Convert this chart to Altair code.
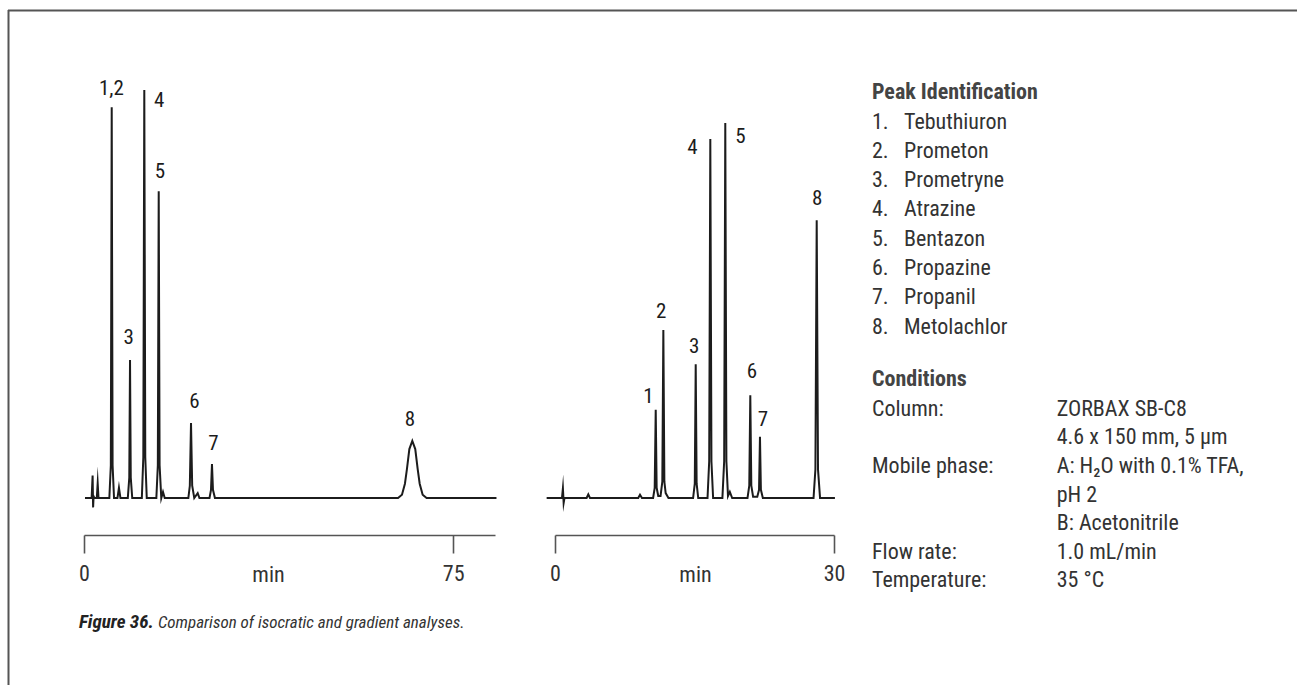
import altair as alt
import pandas as pd

FONT = "Liberation Sans Narrow, Roboto Condensed, Roboto, sans-serif"
TEXT = "#333333"
INK = "#1c1c1c"
AXIS = "#555555"

# ---- isocratic chromatogram (left), minutes / relative response ----
iso_time = [0.2, 1.55, 1.75, 1.85, 1.95, 2.1, 2.6, 2.78, 2.95,
            5.15, 5.45, 5.63, 5.81, 6.1, 6.8, 7.1, 7.4,
            8.9, 9.2, 9.35, 9.5, 9.8,
            11.75, 12.05, 12.25, 12.45, 12.75,
            14.7, 15.0, 15.18, 15.36, 15.7, 16.05, 16.4,
            21.2, 21.5, 21.74, 21.98, 22.4, 23.1, 23.45,
            25.5, 25.8, 26.0, 26.2, 26.6,
            63.8, 64.6, 65.2, 65.6, 66.1, 66.7, 67.3, 67.8, 68.2, 68.8, 69.6, 83.8]
iso_signal = [0, 0, 5.5, -2.3, 0.4, 0, 0, 3.6, 0,
              0, 8, 95.8, 8, 0, 0, 2.5, 0,
              0, 5, 33.8, 5, 0,
              0, 10, 100, 10, 0,
              0, 8, 75.2, 8, 0, 1.5, 0,
              0, 3, 18.4, 3, 0, 1.2, 0,
              0, 2, 8.3, 2, 0,
              0, 0.8, 3.5, 7, 12, 14.0, 12, 7, 3.5, 0.8, 0, 0]

# ---- gradient chromatogram (right) ----
grad_time = [-0.9, 0.75, 0.85, 0.93, 1.02, 3.4, 3.58, 3.76, 8.95, 9.14, 9.35,
             10.55, 10.72, 10.83, 10.93, 11.1,
             11.35, 11.54, 11.65, 11.76, 11.9, 12.2,
             14.85, 15.03, 15.13, 15.23, 15.4,
             16.4, 16.58, 16.70, 16.82, 17.0,
             18.0, 18.19, 18.31, 18.43, 18.6, 18.8, 19.05,
             20.7, 20.89, 21.0, 21.11, 21.3,
             21.75, 21.94, 22.04, 22.14, 22.35,
             27.8, 28.0, 28.14, 28.28, 28.5, 30.1]
grad_signal = [0, 0, 2.4, -1.2, 0, 0, 0.9, 0, 0, 0.8, 0,
               0, 2.5, 21.6, 2.5, 0.5,
               0.5, 4, 41.2, 4, 1.2, 0,
               0, 3.5, 32.8, 3.5, 0,
               0, 9, 88.0, 9, 0,
               0, 9, 91.9, 9, 0.5, 1.5, 0,
               0, 3, 25.2, 3, 0.3,
               0.3, 2, 15.0, 2, 0,
               0, 7, 68.1, 7, 0, 0]

iso_labels = ["1,2", "3", "4", "5", "6", "7", "8"]
iso_label_time = [5.55, 9.08, 15.3, 15.45, 22.45, 26.3, 66.2]
iso_label_signal = [100.2, 39.1, 97.3, 79.9, 23.5, 13.3, 19.0]

grad_labels = ["1", "2", "3", "4", "5", "6", "7", "8"]
grad_label_time = [10.05, 11.43, 14.96, 14.78, 19.95, 21.18, 22.35, 28.2]
grad_label_signal = [24.75, 45.5, 36.9, 85.8, 88.6, 31.0, 19.0, 73.3]

iso_ticks = [0, 75]
grad_ticks = [0, 30]
x_title = "min"

peak_heading = "Peak Identification"
peak_numbers = ["1.", "2.", "3.", "4.", "5.", "6.", "7.", "8."]
peak_names = ["Tebuthiuron", "Prometon", "Prometryne", "Atrazine",
              "Bentazon", "Propazine", "Propanil", "Metolachlor"]
cond_heading = "Conditions"
cond_keys = ["Column:", "", "Mobile phase:", "", "", "Flow rate:", "Temperature:"]
cond_values = ["ZORBAX SB-C8", "4.6 x 150 mm, 5 µm", "A: H\u2082O with 0.1% TFA,",
               "pH 2", "B: Acetonitrile", "1.0 mL/min", "35 °C"]
caption_bold = "Figure 36."
caption_text = "Comparison of isocratic and gradient analyses."

# ---------------------------------------------------------------------
y_scale = alt.Scale(domain=[0, 100], range=[498, 90], nice=False, zero=False)
iso_scale = alt.Scale(domain=[0, 83.5], range=[84, 495], nice=False, zero=False)
grad_scale = alt.Scale(domain=[0, 30], range=[555, 834], nice=False, zero=False)


def x_axis(ticks, title_x):
    return alt.Axis(orient="bottom", offset=-150, values=ticks, format="d",
                    title=x_title, titleX=title_x, titleY=46,
                    titleBaseline="alphabetic", titleFont=FONT, titleFontSize=22,
                    titleFontWeight="normal", titleColor=TEXT,
                    labelFont=FONT, labelFontSize=22, labelColor=TEXT,
                    labelPadding=10.5, labelFlush=False, labelOverlap=False,
                    tickSize=18, tickColor=AXIS, tickWidth=1.6,
                    domainColor=AXIS, domainWidth=1.6, grid=False)


def panel(times, signals, labels, ltimes, lsignals, scale, axis):
    trace = pd.DataFrame({"time": times, "signal": signals})
    marks = pd.DataFrame({"time": ltimes, "signal": lsignals, "label": labels})
    line = alt.Chart(trace).mark_line(color=INK, strokeWidth=2.0,
                                      strokeJoin="miter", strokeMiterLimit=20).encode(
        x=alt.X("time:Q", scale=scale, axis=axis),
        y=alt.Y("signal:Q", scale=y_scale, axis=None),
    )
    text = alt.Chart(marks).mark_text(font=FONT, fontSize=21, color=INK,
                                      align="center", baseline="middle").encode(
        x=alt.X("time:Q", scale=scale, axis=axis),
        y=alt.Y("signal:Q", scale=y_scale, axis=None),
        text="label:N",
    )
    return alt.layer(line, text)


iso = panel(iso_time, iso_signal, iso_labels, iso_label_time, iso_label_signal,
            iso_scale, x_axis(iso_ticks, 268))
grad = panel(grad_time, grad_signal, grad_labels, grad_label_time, grad_label_signal,
             grad_scale, x_axis(grad_ticks, 695))

one = alt.Data(values=[{}])


def note(text, x, y, size=22, weight="normal", style="normal", color=TEXT):
    return alt.Chart(one).mark_text(text=text, font=FONT, fontSize=size,
                                    fontWeight=weight, fontStyle=style,
                                    align="left", baseline="alphabetic",
                                    color=color).encode(x=alt.value(x), y=alt.value(y))


notes = [note(peak_heading, 872, 98.5, weight="bold", color="#444444")]
for i, (n, name) in enumerate(zip(peak_numbers, peak_names)):
    notes.append(note(n, 872, 128.5 + i * 29.3))
    notes.append(note(name, 904, 128.5 + i * 29.3))
notes.append(note(cond_heading, 872, 385.7, weight="bold", color="#444444"))
for i, (k, v) in enumerate(zip(cond_keys, cond_values)):
    if k:
        notes.append(note(k, 872, 415.8 + i * 28.6))
    notes.append(note(v, 1056.7, 415.8 + i * 28.6))
notes.append(note(caption_bold, 79, 628, size=19, weight="bold", style="italic", color="#222222"))
notes.append(note(caption_text, 158, 628, size=17, style="italic", color="#333333"))

frame_top = alt.Chart(one).mark_rule(color="#555555", strokeWidth=2).encode(
    x=alt.value(8), x2=alt.value(1297), y=alt.value(10.5))
frame_left = alt.Chart(one).mark_rule(color="#555555", strokeWidth=2).encode(
    x=alt.value(8.5), y=alt.value(10), y2=alt.value(685))

chart = alt.layer(frame_top, frame_left, iso, grad, *notes).resolve_scale(
    x="independent"
).properties(
    width=1297, height=685, padding=0, autosize=alt.AutoSizeParams(type="none"),
    background="white",
).configure_view(stroke=None)

chart.save("out.html", embed_options={"renderer": "svg", "actions": False})
